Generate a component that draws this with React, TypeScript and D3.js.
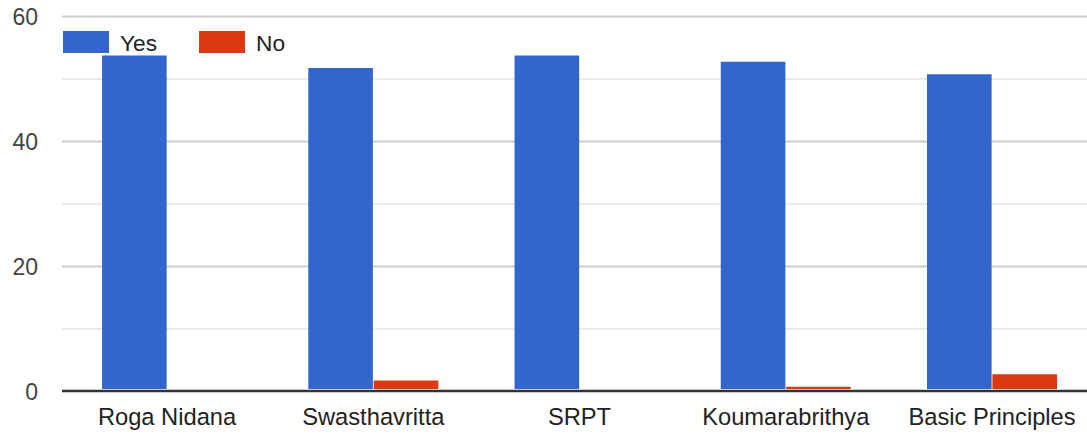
import React from "react";
import * as d3 from "d3";

const categories = ["Roga Nidana", "Swasthavritta", "SRPT", "Koumarabrithya", "Basic Principles"];
const seriesNames = ["Yes", "No"];
const yesValues = [54, 52, 54, 53, 51];
const noValues = [0, 2, 0, 1, 3];
const majorTicks = [0, 20, 40, 60];
const minorTicks = [10, 30, 50];
const colors = ["#3366cc", "#dc3912"];

export default function App() {
  const width = 1087;
  const height = 439;
  const y = d3.scaleLinear().domain([0, 60]).range([391.5, 16.5]);
  const x0 = d3
    .scaleBand<string>()
    .domain(categories)
    .range([63.9, 1095.15])
    .paddingInner(0.3697)
    .paddingOuter(0.185);
  const x1 = d3
    .scaleBand<string>()
    .domain(seriesNames)
    .range([0, x0.bandwidth()])
    .paddingInner(0.012);
  const values = [yesValues, noValues];
  const font = "'Liberation Sans', Arial, sans-serif";

  return (
    <svg
      width={width}
      height={height}
      style={{ position: "absolute", left: 0, top: 0, background: "#fff" }}
      fontFamily={font}
    >
      {minorTicks.map((t) => (
        <line key={"m" + t} x1={62} x2={width} y1={y(t)} y2={y(t)} stroke="#ebebeb" strokeWidth={2} />
      ))}
      {majorTicks.filter((t) => t !== 0).map((t) => (
        <line key={"M" + t} x1={62} x2={width} y1={y(t)} y2={y(t)} stroke="#cccccc" strokeWidth={2} />
      ))}
      {majorTicks.map((t) => (
        <text key={"t" + t} x={38} y={y(t)} dy="0.36em" textAnchor="end" fontSize={23} fill="#444">
          {t}
        </text>
      ))}
      {categories.map((c, i) => (
        <g key={c} transform={`translate(${x0(c)},0)`}>
          {seriesNames.map((s, j) => {
            const v = values[j][i];
            const top = y(v) + 1.5;
            const h = y(0) - 2.5 - top;
            return h > 0 ? (
              <rect key={s} x={x1(s)} y={top} width={x1.bandwidth()} height={h} fill={colors[j]} />
            ) : null;
          })}
          <text x={x0.bandwidth() / 2} y={425} textAnchor="middle" fontSize={23.7} fill="#222">
            {c}
          </text>
        </g>
      ))}
      <line x1={62} x2={width} y1={y(0) - 0.5} y2={y(0) - 0.5} stroke="#333" strokeWidth={2.5} />
      {seriesNames.map((s, j) => (
        <g key={s} transform={`translate(${63 + j * 136},31)`}>
          <rect width={46} height={22} fill={colors[j]} />
          <text x={57} y={19.5} fontSize={22.7} fill="#222">
            {s}
          </text>
        </g>
      ))}
    </svg>
  );
}
